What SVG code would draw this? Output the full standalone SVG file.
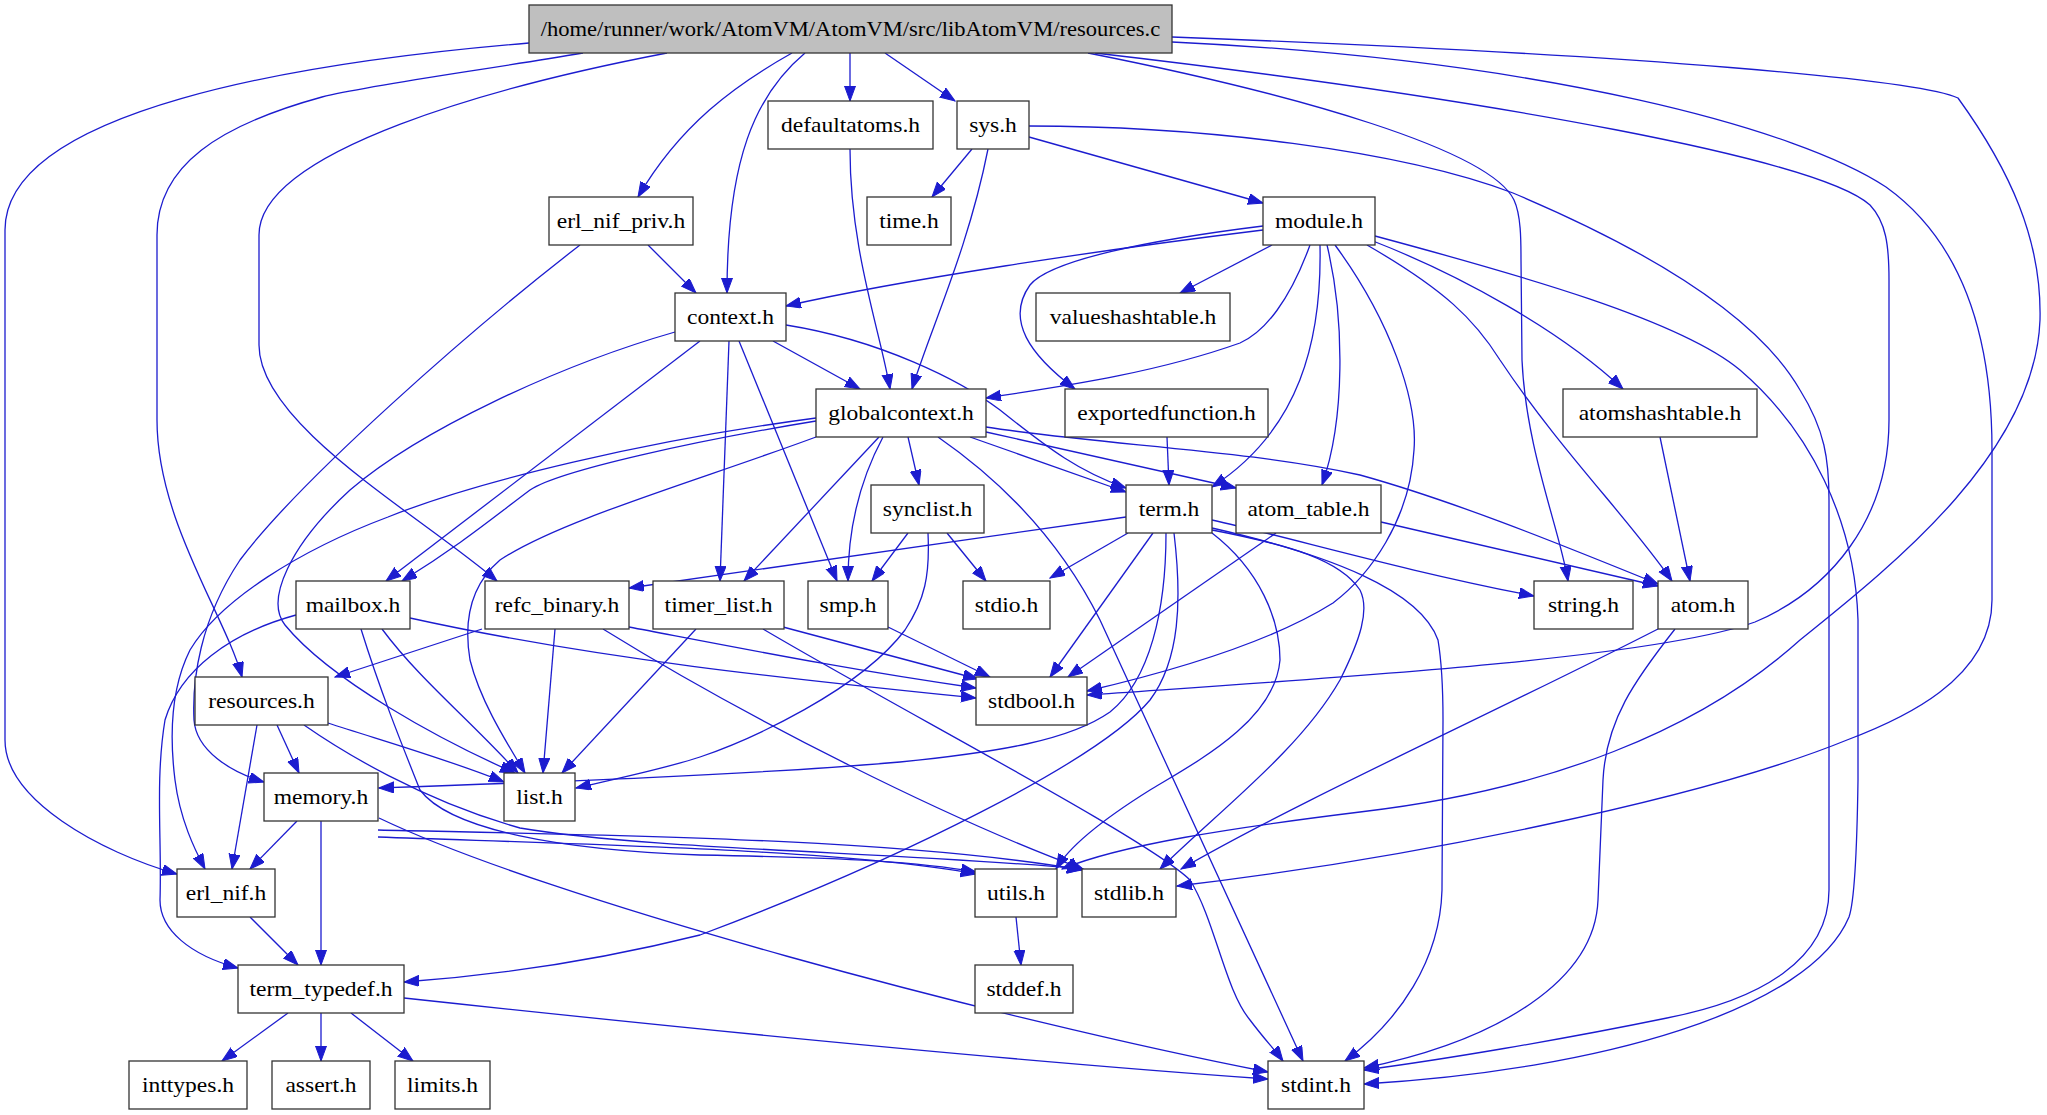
<svg xmlns="http://www.w3.org/2000/svg" width="2047" height="1115" viewBox="0 0 2047 1115">
<style>
.n rect{fill:#fff;stroke:#333;stroke-width:1.3}
#root rect{fill:#bfbfbf}
.n text{font-family:"Liberation Serif","Times New Roman",serif;font-size:22px;text-anchor:middle;fill:#000}
#edges path{fill:none;stroke:#1c1ccf;stroke-width:1.3;marker-end:url(#ah)}
</style>
<defs>
<marker id="ah" markerUnits="userSpaceOnUse" markerWidth="16" markerHeight="12" refX="15" refY="5.5" orient="auto">
<path d="M0,0 L15,5.5 L0,11 z" fill="#1c1ccf" stroke="#1c1ccf" stroke-width="1"/>
</marker>
</defs>
<rect width="2047" height="1115" fill="#fff"/>
<g id="edges">
<path d="M529,43 C300,62 5,110 5,230 L5,740 C5,800 100,852 177,874"/>
<path d="M583,53 C470,72 370,85 322,97 C220,125 157,165 157,235 L157,420 C157,520 225,615 242,677"/>
<path d="M667,53 C500,85 259,150 259,235 L259,345 C259,425 420,515 497,581"/>
<path d="M792,53 C735,85 680,125 638,197"/>
<path d="M805,53 C755,95 727,160 727,293"/>
<path d="M850,53 L850,101"/>
<path d="M885,53 L955,101"/>
<path d="M1088,53 C1300,95 1490,150 1514,200 C1521,215 1521,240 1521,260 L1522,360 C1526,450 1560,530 1568,581"/>
<path d="M1095,53 C1500,100 1820,160 1870,205 C1886,222 1889,245 1889,280 L1889,420 C1889,520 1830,590 1755,622 C1650,660 1300,680 1087,695"/>
<path d="M1172,42 C1550,60 1800,130 1886,187 C1960,240 1992,330 1992,450 L1992,600 C1992,680 1900,720 1847,740 C1700,800 1400,860 1177,886"/>
<path d="M1172,37 C1650,55 1920,80 1958,98 C2010,170 2042,240 2040,320 C2035,450 1900,560 1800,640 C1700,730 1550,790 1360,812 C1230,828 1120,845 1062,869"/>
<path d="M972,149 L932,197"/>
<path d="M988,149 C968,250 930,330 912,389"/>
<path d="M1029,137 L1263,203"/>
<path d="M1029,126 C1200,126 1400,150 1513,193 C1660,255 1760,320 1800,390 C1825,430 1829,460 1829,500 L1829,890 C1829,960 1760,1000 1667,1018 C1560,1040 1440,1060 1364,1070"/>
<path d="M850,149 C850,250 880,330 890,389"/>
<path d="M648,245 L696,293"/>
<path d="M580,245 C470,330 300,480 240,560 C200,620 192,680 194,720 C196,750 230,772 264,782"/>
<path d="M1263,230 C1100,250 900,280 786,306"/>
<path d="M1263,226 C1150,240 1050,260 1030,285 C1005,320 1030,355 1075,389"/>
<path d="M1272,245 L1180,293"/>
<path d="M1310,245 C1290,300 1265,332 1240,343 C1150,375 1050,388 986,398"/>
<path d="M1320,245 C1322,340 1300,430 1212,487"/>
<path d="M1327,245 C1345,320 1345,420 1322,485"/>
<path d="M1335,245 C1390,320 1418,400 1414,450 C1410,520 1370,575 1333,603 C1290,630 1220,660 1087,691"/>
<path d="M1367,245 C1445,290 1475,320 1500,360 C1560,450 1630,520 1672,581"/>
<path d="M1373,241 C1460,275 1560,330 1623,389"/>
<path d="M1375,236 C1520,275 1680,320 1740,370 C1810,430 1855,520 1858,620 L1858,780 C1857,850 1855,900 1849,917 C1810,1010 1600,1070 1364,1084"/>
<path d="M773,341 L860,389"/>
<path d="M786,325 C880,340 960,380 1000,410 C1050,450 1080,472 1126,488"/>
<path d="M700,341 L386,581"/>
<path d="M729,341 L720,581"/>
<path d="M739,341 L837,581"/>
<path d="M675,332 C560,365 420,430 350,490 C290,545 265,600 285,625 C330,680 440,740 515,773"/>
<path d="M816,421 C700,440 560,470 530,490 C490,520 460,545 402,581"/>
<path d="M816,418 C650,440 480,480 388,517 C300,550 220,600 190,650 C170,690 170,740 175,780 C180,820 195,850 205,869"/>
<path d="M816,437 C700,480 560,520 500,560 C465,590 465,630 470,660 C480,700 505,740 525,773"/>
<path d="M879,437 L744,581"/>
<path d="M883,437 C860,480 848,530 848,581"/>
<path d="M908,437 L919,485"/>
<path d="M938,437 C1000,480 1060,540 1100,620 L1303,1061"/>
<path d="M970,437 L1126,492"/>
<path d="M986,432 L1236,488"/>
<path d="M986,427 C1100,445 1250,450 1360,475 C1450,500 1550,540 1658,584"/>
<path d="M908,533 L872,581"/>
<path d="M947,533 L986,581"/>
<path d="M928,533 C930,575 925,600 905,630 C860,690 750,740 700,757 C660,770 610,780 576,788"/>
<path d="M1126,517 L629,588"/>
<path d="M1128,533 L1050,578"/>
<path d="M1153,533 L1050,677"/>
<path d="M1166,533 C1166,610 1150,680 1110,712 C1070,740 1000,752 900,762 C750,775 550,782 379,788"/>
<path d="M1174,533 C1182,600 1180,660 1150,700 C1100,760 900,860 700,935 C600,960 500,975 404,982"/>
<path d="M1212,533 C1260,570 1280,620 1280,660 C1275,720 1200,760 1150,790 C1110,815 1070,845 1056,869"/>
<path d="M1212,530 C1290,545 1340,560 1360,590 C1370,610 1360,640 1340,680 C1300,750 1220,810 1160,869"/>
<path d="M1212,528 C1330,555 1420,590 1438,640 C1443,670 1443,700 1443,720 L1442,890 C1440,960 1400,1020 1345,1061"/>
<path d="M1212,520 C1300,540 1400,570 1534,596"/>
<path d="M1276,533 L1068,677"/>
<path d="M1381,522 L1658,586"/>
<path d="M1167,437 L1169,485"/>
<path d="M1660,437 L1690,581"/>
<path d="M1658,629 C1500,710 1300,800 1181,869"/>
<path d="M1675,629 C1635,680 1606,720 1603,780 L1598,900 C1595,980 1500,1040 1364,1068"/>
<path d="M296,615 C230,633 180,670 165,720 C155,780 162,840 160,900 C160,930 190,955 238,968"/>
<path d="M382,629 C420,680 470,720 518,773"/>
<path d="M361,629 C380,690 400,740 420,790 C450,830 560,850 700,855 C850,858 920,862 976,872"/>
<path d="M410,618 C600,660 800,680 976,698"/>
<path d="M482,629 L335,677"/>
<path d="M555,629 L543,773"/>
<path d="M629,627 C750,650 850,670 976,688"/>
<path d="M603,629 C750,720 950,820 1083,869"/>
<path d="M696,629 L562,773"/>
<path d="M783,627 L978,679"/>
<path d="M763,629 C900,710 1150,840 1190,880 C1215,920 1225,990 1250,1020 C1265,1040 1275,1050 1283,1061"/>
<path d="M888,627 L990,677"/>
<path d="M257,725 L232,869"/>
<path d="M277,725 L299,773"/>
<path d="M328,723 C380,740 450,760 504,782"/>
<path d="M304,725 C340,750 420,800 520,828 C650,850 900,852 1083,869"/>
<path d="M297,821 L250,869"/>
<path d="M321,821 L321,965"/>
<path d="M379,818 C550,900 1000,1020 1268,1072"/>
<path d="M378,837 C600,845 850,850 976,874"/>
<path d="M378,830 C600,835 900,838 1082,870"/>
<path d="M250,917 L298,965"/>
<path d="M1016,917 L1021,965"/>
<path d="M288,1013 L222,1061"/>
<path d="M321,1013 L321,1061"/>
<path d="M351,1013 L413,1061"/>
<path d="M404,998 C700,1030 1000,1060 1268,1079"/>
</g>
<g id="root" class="n"><rect x="529" y="5" width="643" height="48"/><text transform="translate(850.5,36) scale(1.07,1)" textLength="579" lengthAdjust="spacingAndGlyphs">/home/runner/work/AtomVM/AtomVM/src/libAtomVM/resources.c</text></g>
<g id="defaultatoms" class="n"><rect x="768" y="101" width="165" height="48"/><text transform="translate(850.5,132) scale(1.07,1)">defaultatoms.h</text></g>
<g id="sys" class="n"><rect x="957" y="101" width="72" height="48"/><text transform="translate(993,132) scale(1.07,1)">sys.h</text></g>
<g id="erl_nif_priv" class="n"><rect x="549" y="197" width="144" height="48"/><text transform="translate(621,228) scale(1.07,1)">erl_nif_priv.h</text></g>
<g id="time" class="n"><rect x="867" y="197" width="84" height="48"/><text transform="translate(909,228) scale(1.07,1)">time.h</text></g>
<g id="module" class="n"><rect x="1263" y="197" width="112" height="48"/><text transform="translate(1319,228) scale(1.07,1)">module.h</text></g>
<g id="context" class="n"><rect x="675" y="293" width="111" height="48"/><text transform="translate(730.5,324) scale(1.07,1)">context.h</text></g>
<g id="valueshashtable" class="n"><rect x="1036" y="293" width="194" height="48"/><text transform="translate(1133,324) scale(1.07,1)">valueshashtable.h</text></g>
<g id="globalcontext" class="n"><rect x="816" y="389" width="170" height="48"/><text transform="translate(901,420) scale(1.07,1)">globalcontext.h</text></g>
<g id="exportedfunction" class="n"><rect x="1065" y="389" width="203" height="48"/><text transform="translate(1166.5,420) scale(1.07,1)">exportedfunction.h</text></g>
<g id="atomshashtable" class="n"><rect x="1563" y="389" width="194" height="48"/><text transform="translate(1660,420) scale(1.07,1)">atomshashtable.h</text></g>
<g id="synclist" class="n"><rect x="871" y="485" width="113" height="48"/><text transform="translate(927.5,516) scale(1.07,1)">synclist.h</text></g>
<g id="term" class="n"><rect x="1126" y="485" width="86" height="48"/><text transform="translate(1169,516) scale(1.07,1)">term.h</text></g>
<g id="atom_table" class="n"><rect x="1236" y="485" width="145" height="48"/><text transform="translate(1308.5,516) scale(1.07,1)">atom_table.h</text></g>
<g id="mailbox" class="n"><rect x="296" y="581" width="114" height="48"/><text transform="translate(353,612) scale(1.07,1)">mailbox.h</text></g>
<g id="refc_binary" class="n"><rect x="485" y="581" width="144" height="48"/><text transform="translate(557,612) scale(1.07,1)">refc_binary.h</text></g>
<g id="timer_list" class="n"><rect x="653" y="581" width="131" height="48"/><text transform="translate(718.5,612) scale(1.07,1)">timer_list.h</text></g>
<g id="smp" class="n"><rect x="808" y="581" width="80" height="48"/><text transform="translate(848,612) scale(1.07,1)">smp.h</text></g>
<g id="stdio" class="n"><rect x="963" y="581" width="87" height="48"/><text transform="translate(1006.5,612) scale(1.07,1)">stdio.h</text></g>
<g id="string" class="n"><rect x="1534" y="581" width="99" height="48"/><text transform="translate(1583.5,612) scale(1.07,1)">string.h</text></g>
<g id="atom" class="n"><rect x="1658" y="581" width="90" height="48"/><text transform="translate(1703,612) scale(1.07,1)">atom.h</text></g>
<g id="resources" class="n"><rect x="195" y="677" width="133" height="48"/><text transform="translate(261.5,708) scale(1.07,1)">resources.h</text></g>
<g id="stdbool" class="n"><rect x="976" y="677" width="111" height="48"/><text transform="translate(1031.5,708) scale(1.07,1)">stdbool.h</text></g>
<g id="memory" class="n"><rect x="264" y="773" width="114" height="48"/><text transform="translate(321,804) scale(1.07,1)">memory.h</text></g>
<g id="list" class="n"><rect x="504" y="773" width="71" height="48"/><text transform="translate(539.5,804) scale(1.07,1)">list.h</text></g>
<g id="erl_nif" class="n"><rect x="177" y="869" width="98" height="48"/><text transform="translate(226,900) scale(1.07,1)">erl_nif.h</text></g>
<g id="utils" class="n"><rect x="975" y="869" width="82" height="48"/><text transform="translate(1016,900) scale(1.07,1)">utils.h</text></g>
<g id="stdlib" class="n"><rect x="1082" y="869" width="94" height="48"/><text transform="translate(1129,900) scale(1.07,1)">stdlib.h</text></g>
<g id="term_typedef" class="n"><rect x="238" y="965" width="166" height="48"/><text transform="translate(321,996) scale(1.07,1)">term_typedef.h</text></g>
<g id="stddef" class="n"><rect x="975" y="965" width="98" height="48"/><text transform="translate(1024,996) scale(1.07,1)">stddef.h</text></g>
<g id="inttypes" class="n"><rect x="129" y="1061" width="118" height="48"/><text transform="translate(188,1092) scale(1.07,1)">inttypes.h</text></g>
<g id="assert" class="n"><rect x="272" y="1061" width="98" height="48"/><text transform="translate(321,1092) scale(1.07,1)">assert.h</text></g>
<g id="limits" class="n"><rect x="395" y="1061" width="95" height="48"/><text transform="translate(442.5,1092) scale(1.07,1)">limits.h</text></g>
<g id="stdint" class="n"><rect x="1268" y="1061" width="96" height="48"/><text transform="translate(1316,1092) scale(1.07,1)">stdint.h</text></g>
</svg>
